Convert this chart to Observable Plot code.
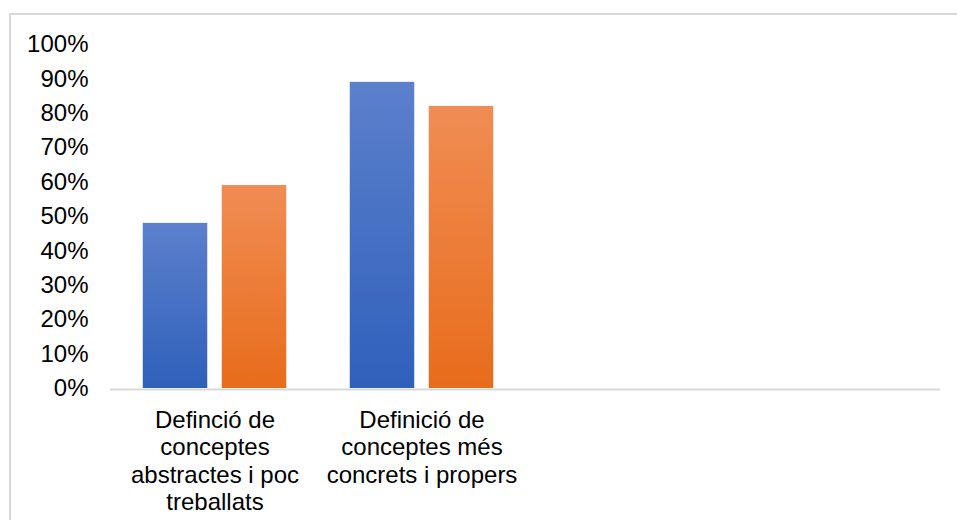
<!DOCTYPE html>
<html><head><meta charset="utf-8">
<script src="https://cdn.jsdelivr.net/npm/d3@7"></script>
<script src="https://cdn.jsdelivr.net/npm/@observablehq/plot@0.6"></script>
<style>
html,body{margin:0;padding:0;background:#fff;overflow:hidden}
#wrap{position:relative;width:957px;height:520px;overflow:hidden}
#frame{position:absolute;left:9px;top:13px;width:1000px;height:1000px;border:2px solid #d9d9d9;box-sizing:border-box}
#chart{position:absolute;left:0;top:0}
</style></head><body>
<div id="wrap"><div id="frame"></div><div id="chart"></div></div>
<script>
const categories = [
  "Definció de\nconceptes\nabstractes i poc\ntreballats",
  "Definició de\nconceptes més\nconcrets i propers"
];
const emptySlots = ["buit 1", "buit 2"];
const series = ["Sèrie 1", "Sèrie 2"];
const serie1 = [0.48, 0.89];
const serie2 = [0.59, 0.82];
const yTicks = [0, 0.1, 0.2, 0.3, 0.4, 0.5, 0.6, 0.7, 0.8, 0.9, 1];

const data1 = categories.map((c, i) => ({categoria: c, serie: series[0], valor: serie1[i]}));
const data2 = categories.map((c, i) => ({categoria: c, serie: series[1], valor: serie2[i]}));

const W = 957, H = 520, mL = 110, mR = 17, mT = 44, mB = 132;
const step = (W - mL - mR) / (categories.length + emptySlots.length);
const barW = 65, gap = 14;
const outer = (step - 2 * barW - gap) / 2;

const svg = Plot.plot({
  width: W, height: H,
  marginLeft: mL, marginRight: mR, marginTop: mT, marginBottom: mB,
  style: {fontFamily: "'Liberation Sans', Arial, sans-serif", fontSize: "24px", color: "#000", background: "transparent"},
  x: {domain: [...categories, ...emptySlots], padding: 0, axis: null},
  y: {domain: [0, 1], axis: null},
  marks: [
    Plot.ruleY([0], {stroke: "#d9d9d9", strokeWidth: 2, dy: 1}),
    Plot.barY(data1, {x: "categoria", y: "valor", fill: "url(#gradBlau)", insetLeft: outer, insetRight: step - outer - barW, ariaLabel: "barres"}),
    Plot.barY(data2, {x: "categoria", y: "valor", fill: "url(#gradTaronja)", insetLeft: outer + barW + gap, insetRight: outer, ariaLabel: "barres"}),
    Plot.axisY({ticks: yTicks, tickFormat: d => Math.round(d * 100) + "%", tickSize: 0, tickPadding: 22, fontSize: 24, label: null, fill: "#000"}),
    Plot.axisX({tickFormat: d => categories.includes(d) ? d : "", tickSize: 0, tickPadding: 20, lineHeight: 1.14, fontSize: 24, label: null, fill: "#000"})
  ]
});

const NS = "http://www.w3.org/2000/svg";
const defs = document.createElementNS(NS, "defs");
defs.innerHTML = `
<linearGradient id="gradBlau" x1="0" y1="0" x2="0" y2="1">
  <stop offset="0" stop-color="#5c80cc"/><stop offset="1" stop-color="#2f60bb"/>
</linearGradient>
<linearGradient id="gradTaronja" x1="0" y1="0" x2="0" y2="1">
  <stop offset="0" stop-color="#f08d54"/><stop offset="1" stop-color="#e86c1b"/>
</linearGradient>
<filter id="ombra" x="-20%" y="-20%" width="140%" height="140%">
  <feDropShadow dx="0" dy="1" stdDeviation="2.5" flood-color="#000" flood-opacity="0.35"/>
</filter>`;
svg.insertBefore(defs, svg.firstChild);
svg.querySelectorAll('g[aria-label="barres"] rect').forEach(r => r.setAttribute("filter", "url(#ombra)"));
document.getElementById("chart").appendChild(svg);
</script>
</body></html>
